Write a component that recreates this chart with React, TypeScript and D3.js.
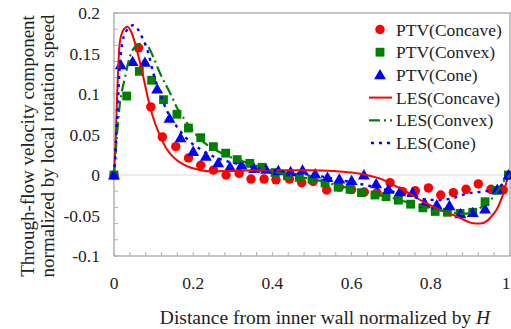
import React from "react";
import * as d3 from "d3";

const ptvConcaveX = [0, 0.062, 0.093, 0.122, 0.156, 0.188, 0.219, 0.251, 0.283, 0.316, 0.346, 0.379, 0.409, 0.443, 0.474, 0.503, 0.537, 0.569, 0.600, 0.632, 0.664, 0.697, 0.729, 0.761, 0.794, 0.825, 0.857, 0.889, 0.920, 0.952, 0.983];
const ptvConcaveY = [0, 0.157, 0.084, 0.047, 0.035, 0.021, 0.012, 0.006, 0.0, 0.002, -0.005, -0.005, -0.006, -0.005, -0.0095, -0.008, -0.0185, -0.015, -0.018, -0.021, -0.022, -0.0095, -0.0205, -0.0195, -0.016, -0.0247, -0.0218, -0.0177, -0.011, -0.0177, -0.0185];

const ptvConvexX = [0, 0.032, 0.064, 0.095, 0.125, 0.159, 0.188, 0.219, 0.251, 0.282, 0.311, 0.343, 0.374, 0.407, 0.438, 0.468, 0.500, 0.533, 0.566, 0.596, 0.625, 0.659, 0.687, 0.718, 0.749, 0.780, 0.811, 0.842, 0.874, 0.906, 0.937, 0.966, 0.996];
const ptvConvexY = [0, 0.0975, 0.128, 0.117, 0.093, 0.075, 0.058, 0.046, 0.035, 0.027, 0.019, 0.0144, 0.0095, 0.003, -0.001, -0.003, -0.005, -0.010, -0.015, -0.0177, -0.0218, -0.0247, -0.0268, -0.031, -0.036, -0.0405, -0.045, -0.046, -0.0475, -0.046, -0.033, -0.019, 0];

const ptvConeX = [0, 0.017, 0.047, 0.078, 0.109, 0.140, 0.168, 0.200, 0.232, 0.263, 0.293, 0.322, 0.354, 0.384, 0.415, 0.446, 0.476, 0.508, 0.539, 0.569, 0.600, 0.631, 0.662, 0.693, 0.722, 0.754, 0.785, 0.815, 0.847, 0.875, 0.906, 0.937, 0.968, 0.996];
const ptvConeY = [0, 0.136, 0.140, 0.139, 0.106, 0.070, 0.046, 0.029, 0.023, 0.015, 0.010, 0.0123, 0.008, 0.007, 0.0053, 0.004, 0.006, 0.0012, -0.003, -0.005, -0.007, 0.0, -0.011, -0.0177, -0.0206, -0.0218, -0.035, -0.037, -0.038, -0.048, -0.0465, -0.042, -0.0177, 0];

const lesConcaveX = [0, 0.004, 0.008, 0.015, 0.025, 0.034, 0.045, 0.06, 0.074, 0.091, 0.105, 0.116, 0.133, 0.158, 0.184, 0.209, 0.24, 0.30, 0.385, 0.495, 0.554, 0.60, 0.638, 0.68, 0.722, 0.75, 0.781, 0.823, 0.865, 0.907, 0.925, 0.941, 0.955, 0.966, 0.983, 0.996, 1.0];
const lesConcaveY = [0, 0.04, 0.1, 0.165, 0.18, 0.183, 0.175, 0.15, 0.121, 0.084, 0.062, 0.049, 0.032, 0.0185, 0.011, 0.007, 0.0045, 0.005, 0.006, 0.006, 0.005, 0.003, 0.0, -0.006, -0.0165, -0.024, -0.033, -0.043, -0.051, -0.0595, -0.06, -0.057, -0.05, -0.043, -0.023, -0.002, 0];

const lesConvexX = [0, 0.006, 0.013, 0.028, 0.04, 0.053, 0.074, 0.087, 0.099, 0.116, 0.146, 0.158, 0.179, 0.205, 0.23, 0.26, 0.3, 0.35, 0.4, 0.45, 0.5, 0.55, 0.6, 0.65, 0.7, 0.75, 0.8, 0.85, 0.88, 0.91, 0.935, 0.958, 0.975, 0.99, 1.0];
const lesConvexY = [0, 0.04, 0.08, 0.121, 0.146, 0.158, 0.163, 0.158, 0.146, 0.126, 0.097, 0.084, 0.068, 0.051, 0.039, 0.03, 0.021, 0.013, 0.005, -0.001, -0.005, -0.011, -0.017, -0.023, -0.028, -0.035, -0.041, -0.046, -0.048, -0.045, -0.037, -0.027, -0.0144, -0.004, 0];

const lesConeX = [0, 0.005, 0.009, 0.015, 0.028, 0.049, 0.07, 0.087, 0.099, 0.116, 0.137, 0.158, 0.192, 0.221, 0.26, 0.3, 0.35, 0.4, 0.45, 0.5, 0.55, 0.6, 0.65, 0.7, 0.75, 0.78, 0.82, 0.86, 0.89, 0.93, 0.96, 0.98, 1.0];
const lesConeY = [0, 0.04, 0.08, 0.138, 0.175, 0.185, 0.171, 0.15, 0.126, 0.101, 0.076, 0.06, 0.041, 0.031, 0.021, 0.015, 0.01, 0.006, 0.003, 0.0, -0.004, -0.009, -0.014, -0.02, -0.026, -0.03, -0.031, -0.028, -0.023, -0.0205, -0.018, -0.012, 0];

const xTicks = [0, 0.2, 0.4, 0.6, 0.8, 1];
const xTickLabels = ["0", "0.2", "0.4", "0.6", "0.8", "1"];
const yTicks = [0.2, 0.15, 0.1, 0.05, 0, -0.05, -0.1];
const yTickLabels = ["0.2", "0.15", "0.1", "0.05", "0", "-0.05", "-0.1"];
const legendLabels = ["PTV(Concave)", "PTV(Convex)", "PTV(Cone)", "LES(Concave)", "LES(Convex)", "LES(Cone)"];

const RED = "#ff0000";
const GREEN = "#008000";
const BLUE = "#0000ff";
const FONT = "Liberation Serif, Times New Roman, DejaVu Serif, serif";
const TXT: React.CSSProperties = { fontFamily: FONT };

export default function App() {
  const W = 511, H = 329;
  const left = 114, right = 510, top = 13, bottom = 256;
  const x = d3.scaleLinear().domain([0, 1]).range([left, right]);
  const y = d3.scaleLinear().domain([-0.1, 0.2]).range([bottom, top]);

  const line = (xs: number[], ys: number[]) =>
    d3.line<number>().x((_, i) => x(xs[i])).y((d) => y(d)).curve(d3.curveMonotoneX)(ys) || "";

  const circle = d3.symbol().type(d3.symbolCircle).size(70)() || "";
  const square = d3.symbol().type(d3.symbolSquare).size(78)() || "";
  const tri = d3.symbol().type(d3.symbolTriangle).size(62)() || "";

  const minorX = d3.range(0, 1.0001, 0.04);
  const minorY = d3.range(-0.1, 0.2001, 0.02);

  const legTop = 29.5, legStep = 22.7, legTextX = 396, legMarkX = 380;

  return (
    <svg width={W} height={H} style={{ position: "absolute", left: 0, top: 0, background: "#fff", fontFamily: FONT }}>
      <rect x={0} y={0} width={W} height={H} fill="#fff" />
      <line x1={left} x2={right} y1={y(0)} y2={y(0)} stroke="#d9d9d9" strokeWidth={1} />
      <rect x={left} y={top} width={right - left} height={bottom - top} fill="none" stroke="#a6a6a6" strokeWidth={1.3} />
      {minorX.map((v, i) => (
        <line key={"mx" + i} x1={x(v)} x2={x(v)} y1={bottom} y2={bottom - 4} stroke="#b0b0b0" strokeWidth={1} />
      ))}
      {minorY.map((v, i) => (
        <line key={"my" + i} x1={left} x2={left + 4} y1={y(v)} y2={y(v)} stroke="#b0b0b0" strokeWidth={1} />
      ))}
      {yTicks.map((v, i) => (
        <text key={"yt" + i} x={100} y={y(v)} textAnchor="end" dominantBaseline="central" fontSize={17.5} fill="#222" style={TXT}>
          {yTickLabels[i]}
        </text>
      ))}
      {xTicks.map((v, i) => (
        <text key={"xt" + i} x={Math.min(x(v), 506)} y={283} textAnchor="middle" dominantBaseline="central" fontSize={17.5} fill="#222" style={TXT}>
          {xTickLabels[i]}
        </text>
      ))}
      <text transform={`translate(27,146) rotate(-90)`} textAnchor="middle" dominantBaseline="central" fontSize={19} fill="#222" style={TXT}>
        Through-flow velocity component
      </text>
      <text transform={`translate(47,146) rotate(-90)`} textAnchor="middle" dominantBaseline="central" fontSize={19} fill="#222" style={TXT}>
        normalized by local rotation speed
      </text>
      <text x={325} y={317} textAnchor="middle" dominantBaseline="central" fontSize={19.5} fill="#222" style={TXT}>
        Distance from inner wall normalized by <tspan fontStyle="italic">H</tspan>
      </text>

      {ptvConcaveY.map((v, i) => (
        <path key={"pc" + i} d={circle} transform={`translate(${x(ptvConcaveX[i])},${y(v)})`} fill={RED} />
      ))}
      {ptvConvexY.map((v, i) => (
        <path key={"pv" + i} d={square} transform={`translate(${x(ptvConvexX[i])},${y(v)})`} fill={GREEN} />
      ))}
      {ptvConeY.map((v, i) => (
        <path key={"pn" + i} d={tri} transform={`translate(${x(ptvConeX[i])},${y(v) + 1})`} fill={BLUE} />
      ))}

      <path d={line(lesConcaveX, lesConcaveY)} fill="none" stroke={RED} strokeWidth={2} />
      <path d={line(lesConvexX, lesConvexY)} fill="none" stroke={GREEN} strokeWidth={2.2} strokeDasharray="11,4,2,4" />
      <path d={line(lesConeX, lesConeY)} fill="none" stroke={BLUE} strokeWidth={2.4} strokeDasharray="3,5" />

      <g>
        <path d={circle} transform={`translate(${legMarkX},${legTop})`} fill={RED} />
        <path d={square} transform={`translate(${legMarkX},${legTop + legStep})`} fill={GREEN} />
        <path d={tri} transform={`translate(${legMarkX},${legTop + 2 * legStep + 1})`} fill={BLUE} />
        <line x1={369} x2={392} y1={legTop + 3 * legStep} y2={legTop + 3 * legStep} stroke={RED} strokeWidth={2} />
        <line x1={369} x2={392} y1={legTop + 4 * legStep} y2={legTop + 4 * legStep} stroke={GREEN} strokeWidth={2.2} strokeDasharray="11,4,2,4" />
        <line x1={371} x2={392} y1={legTop + 5 * legStep} y2={legTop + 5 * legStep} stroke={BLUE} strokeWidth={2.4} strokeDasharray="3,5" />
        {legendLabels.map((t, i) => (
          <text key={"lg" + i} x={legTextX} y={legTop + i * legStep} dominantBaseline="central" fontSize={17.5} fill="#222" style={TXT}>
            {t}
          </text>
        ))}
      </g>
    </svg>
  );
}
